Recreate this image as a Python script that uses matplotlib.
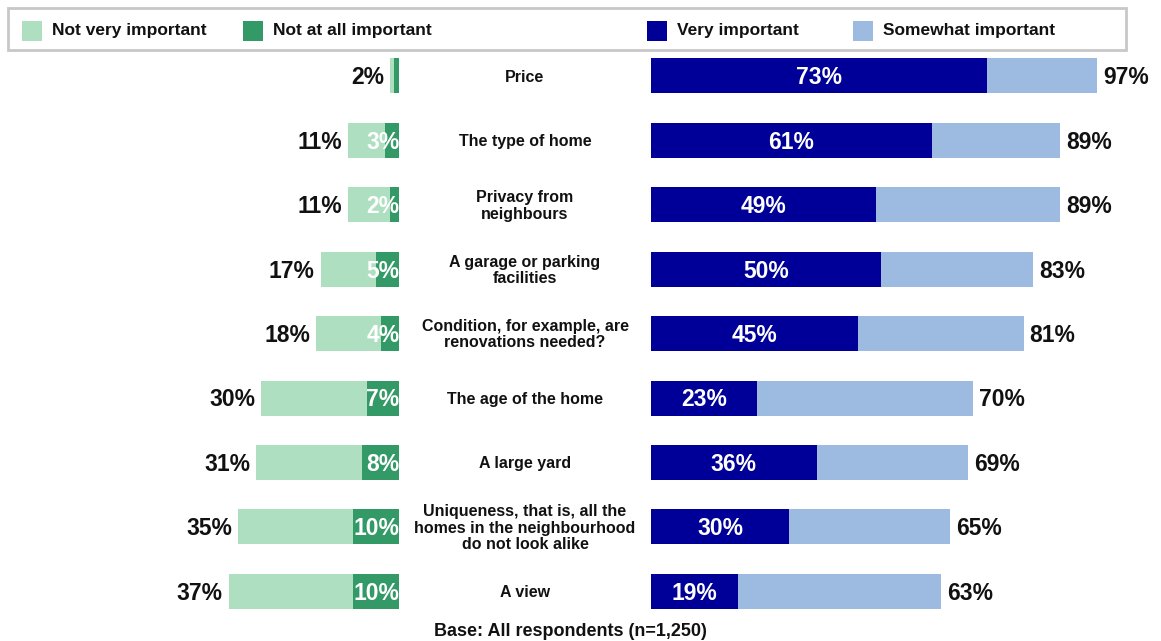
import matplotlib
matplotlib.use("Agg")
import matplotlib.pyplot as plt
from matplotlib.patches import Rectangle

plt.rcParams['font.family'] = ['Liberation Sans', 'DejaVu Sans']
plt.rcParams['font.weight'] = 'bold'

categories = [
    "Price",
    "The type of home",
    "Privacy from\nneighbours",
    "A garage or parking\nfacilities",
    "Condition, for example, are\nrenovations needed?",
    "The age of the home",
    "A large yard",
    "Uniqueness, that is, all the\nhomes in the neighbourhood\ndo not look alike",
    "A view",
]
very_important = [73, 61, 49, 50, 45, 23, 36, 30, 19]
total_important = [97, 89, 89, 83, 81, 70, 69, 65, 63]
not_at_all = [1, 3, 2, 5, 4, 7, 8, 10, 10]
total_not = [2, 11, 11, 17, 18, 30, 31, 35, 37]
not_at_all_labels = ["", "3%", "2%", "5%", "4%", "7%", "8%", "10%", "10%"]

somewhat_important = [t - v for t, v in zip(total_important, very_important)]
not_very = [t - n for t, n in zip(total_not, not_at_all)]

LIGHT_GREEN = '#ADDFC0'
DARK_GREEN = '#339966'
NAVY = '#000099'
LIGHT_BLUE = '#9DBAE0'

W, H = 1161, 641
px_per_pct = 4.6
fig = plt.figure(figsize=(W / 100, H / 100), dpi=100)
ax = fig.add_axes([0, 0, 1, 1])
ax.set_xlim(0, W / px_per_pct)
row_px, row0 = 64.4, 76
ax.set_ylim((H - row0) / row_px, -row0 / row_px)
ax.axis('off')

left_base = 399 / px_per_pct
right_base = 651 / px_per_pct
mid_x = 525 / px_per_pct
gap = 6 / px_per_pct
bh = 35 / row_px
base_off = 8.3 / row_px  # half the cap height, to centre digits on the bar

y = list(range(len(categories)))

# left side: not important
ax.barh(y, [-v for v in not_at_all], left=left_base, height=bh, color=DARK_GREEN)
ax.barh(y, [-v for v in not_very], left=[left_base - n for n in not_at_all],
        height=bh, color=LIGHT_GREEN)
# right side: important
ax.barh(y, very_important, left=right_base, height=bh, color=NAVY)
ax.barh(y, somewhat_important, left=[right_base + v for v in very_important],
        height=bh, color=LIGHT_BLUE)

for i in y:
    yb = i + base_off
    ax.text(left_base - total_not[i] - gap, yb, f"{total_not[i]}%",
            ha='right', va='baseline', fontsize=16.5, color='#111111')
    if not_at_all_labels[i]:
        ax.text(left_base + 0.1, yb, not_at_all_labels[i], ha='right',
                va='baseline', fontsize=16.5, color='white')
    ax.text(right_base + very_important[i] / 2, yb, f"{very_important[i]}%",
            ha='center', va='baseline', fontsize=16.5, color='white')
    ax.text(right_base + total_important[i] + gap, yb, f"{total_important[i]}%",
            ha='left', va='baseline', fontsize=16.5, color='#111111')
    ax.text(mid_x, i + 0.02, categories[i], ha='center', va='center',
            fontsize=11.5, color='#111111', linespacing=1.1)

fig.text(570 / W, 1 - 631 / H, "Base: All respondents (n=1,250)",
         ha='center', va='center', fontsize=13, color='#111111')

# legend box
fig.add_artist(Rectangle((8 / W, 1 - 50 / H), (1126 - 8) / W, 42 / H,
                         transform=fig.transFigure, facecolor='white',
                         edgecolor='#C8C8C8', linewidth=2))
legend_items = [
    (22, LIGHT_GREEN, "Not very important"),
    (243, DARK_GREEN, "Not at all important"),
    (647, NAVY, "Very important"),
    (853, LIGHT_BLUE, "Somewhat important"),
]
for x0, col, lab in legend_items:
    fig.add_artist(Rectangle((x0 / W, 1 - 41 / H), 20 / W, 20 / H,
                             transform=fig.transFigure, facecolor=col,
                             edgecolor='none'))
    fig.text((x0 + 30) / W, 1 - 31 / H, lab, ha='left', va='center',
             fontsize=12.5, color='#111111')

fig.savefig('out.png', dpi=100)
